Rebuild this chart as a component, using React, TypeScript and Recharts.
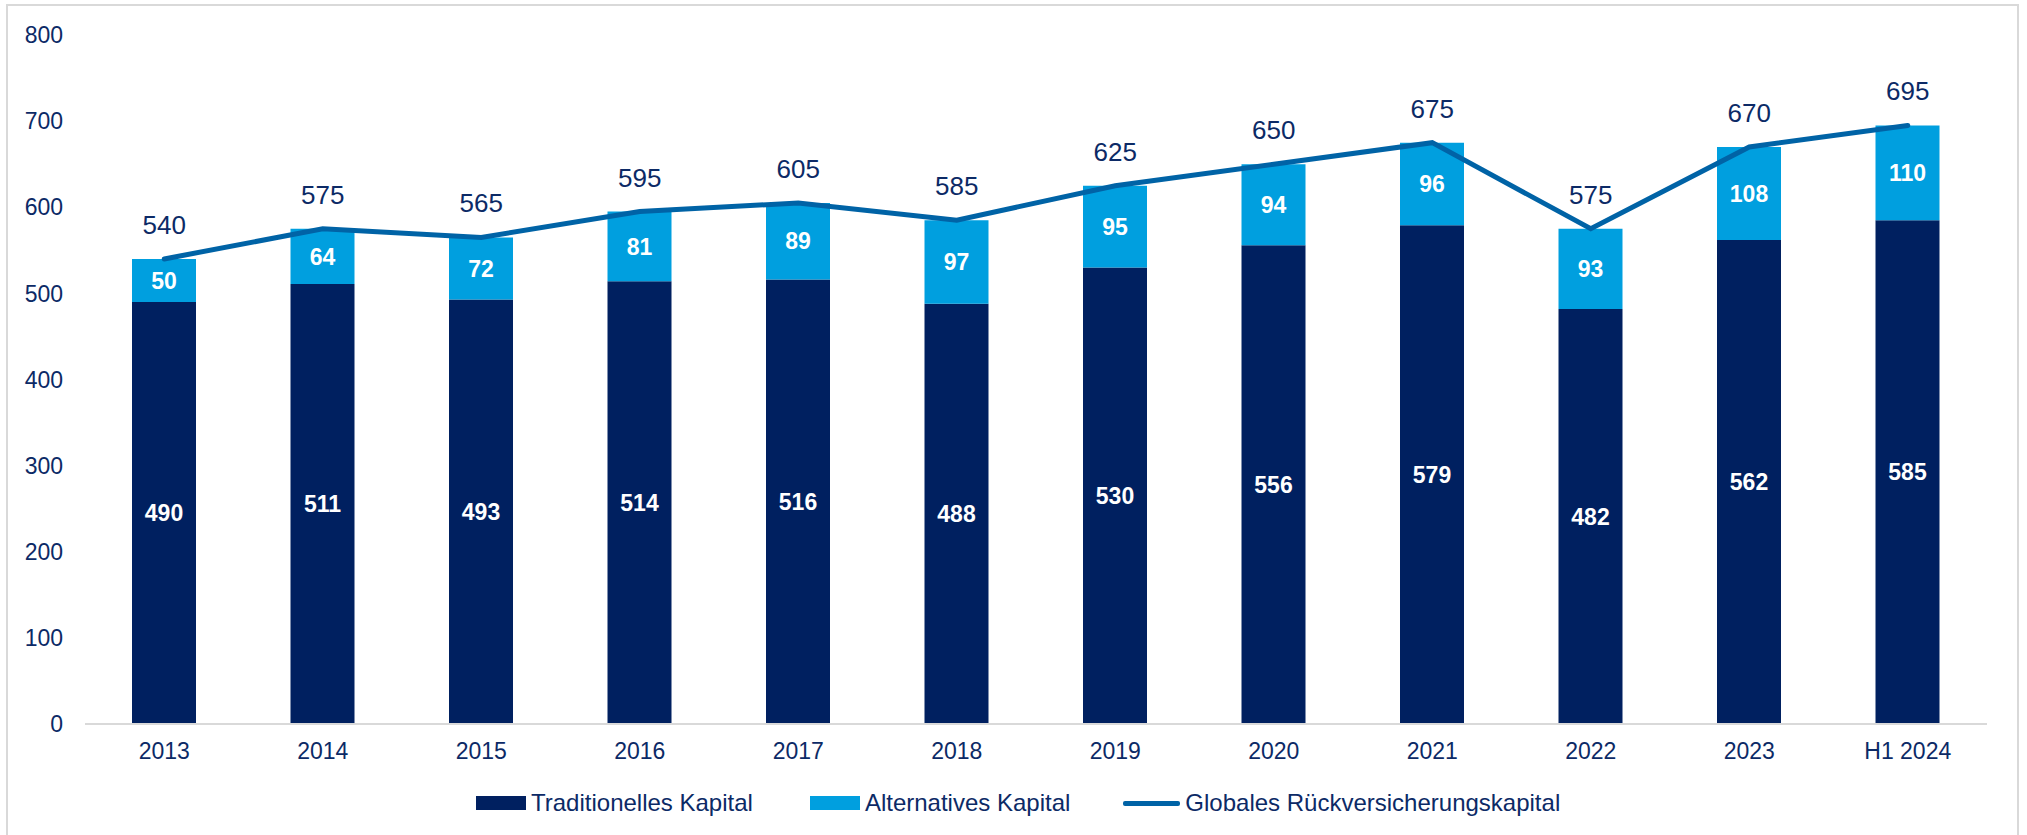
import React from "react";
import { ComposedChart, Bar, Line, XAxis, YAxis, Legend, LabelList } from "recharts";

const categories = ["2013", "2014", "2015", "2016", "2017", "2018", "2019", "2020", "2021", "2022", "2023", "H1 2024"];
const traditional = [490, 511, 493, 514, 516, 488, 530, 556, 579, 482, 562, 585];
const alternative = [50, 64, 72, 81, 89, 97, 95, 94, 96, 93, 108, 110];
const total = [540, 575, 565, 595, 605, 585, 625, 650, 675, 575, 670, 695];
const yTicks = [0, 100, 200, 300, 400, 500, 600, 700, 800];
const seriesNames = ["Traditionelles Kapital", "Alternatives Kapital", "Globales Rückversicherungskapital"];

const DARK = "#002060";
const LIGHT = "#009FDF";
const LINE = "#0063A6";
const TEXT = "#0C2A66";
const FONT = "'Liberation Sans', Arial, sans-serif";

const data = categories.map((c, i) => ({
  name: c,
  trad: traditional[i],
  alt: alternative[i],
  total: total[i],
}));

const LegendContent = () => (
  <div style={{ display: "flex", alignItems: "center", paddingLeft: 476, fontFamily: FONT, fontSize: 24, color: TEXT, lineHeight: "26px" }}>
    <div style={{ display: "flex", alignItems: "center", marginRight: 57 }}>
      <div style={{ width: 50, height: 14, background: DARK, marginRight: 5 }} />
      <span>{seriesNames[0]}</span>
    </div>
    <div style={{ display: "flex", alignItems: "center", marginRight: 53 }}>
      <div style={{ width: 50, height: 14, background: LIGHT, marginRight: 5 }} />
      <span>{seriesNames[1]}</span>
    </div>
    <div style={{ display: "flex", alignItems: "center" }}>
      <div style={{ width: 57, height: 5, background: LINE, marginRight: 5, borderRadius: 2 }} />
      <span>{seriesNames[2]}</span>
    </div>
  </div>
);

export default function App() {
  return (
    <div style={{ position: "fixed", left: 0, top: 0, width: 2027, height: 835, overflow: "hidden", background: "#fff", fontFamily: FONT }}>
      <div style={{ position: "absolute", left: 6, top: 4, width: 2009, height: 900, border: "2px solid #D9D9D9" }} />
      <div style={{ position: "absolute", left: 0, top: 0 }}>
        <ComposedChart
          width={2027}
          height={835}
          data={data}
          margin={{ top: 35, right: 40, left: 0, bottom: 0 }}
          barCategoryGap="30%"
        >
          <XAxis
            dataKey="name"
            height={111}
            tickLine={false}
            tickSize={0}
            tickMargin={19}
            axisLine={{ stroke: "#D9D9D9", strokeWidth: 2 }}
            tick={{ fill: TEXT, fontSize: 23, fontFamily: FONT }}
            interval={0}
          />
          <YAxis
            width={85}
            domain={[0, 800]}
            ticks={yTicks}
            tickLine={false}
            axisLine={false}
            tickSize={0}
            tickMargin={22}
            tick={{ fill: TEXT, fontSize: 23, fontFamily: FONT }}
          />
          <Legend layout="horizontal" verticalAlign="middle" wrapperStyle={{ top: 790, left: 0, width: 2027 }} content={<LegendContent />} />
          <Bar dataKey="trad" stackId="a" fill={DARK} barSize={64} isAnimationActive={false} name={seriesNames[0]}>
            <LabelList dataKey="trad" position="center" fill="#fff" fontSize={23} fontWeight="bold" fontFamily={FONT} />
          </Bar>
          <Bar dataKey="alt" stackId="a" fill={LIGHT} barSize={64} isAnimationActive={false} name={seriesNames[1]}>
            <LabelList dataKey="alt" position="center" fill="#fff" fontSize={23} fontWeight="bold" fontFamily={FONT} />
          </Bar>
          <Line
            dataKey="total"
            type="linear"
            stroke={LINE}
            strokeWidth={5}
            strokeLinecap="round"
            dot={false}
            activeDot={false}
            isAnimationActive={false}
            name={seriesNames[2]}
          >
            <LabelList dataKey="total" position="top" offset={25} fill={TEXT} fontSize={26} fontFamily={FONT} />
          </Line>
        </ComposedChart>
      </div>
    </div>
  );
}
